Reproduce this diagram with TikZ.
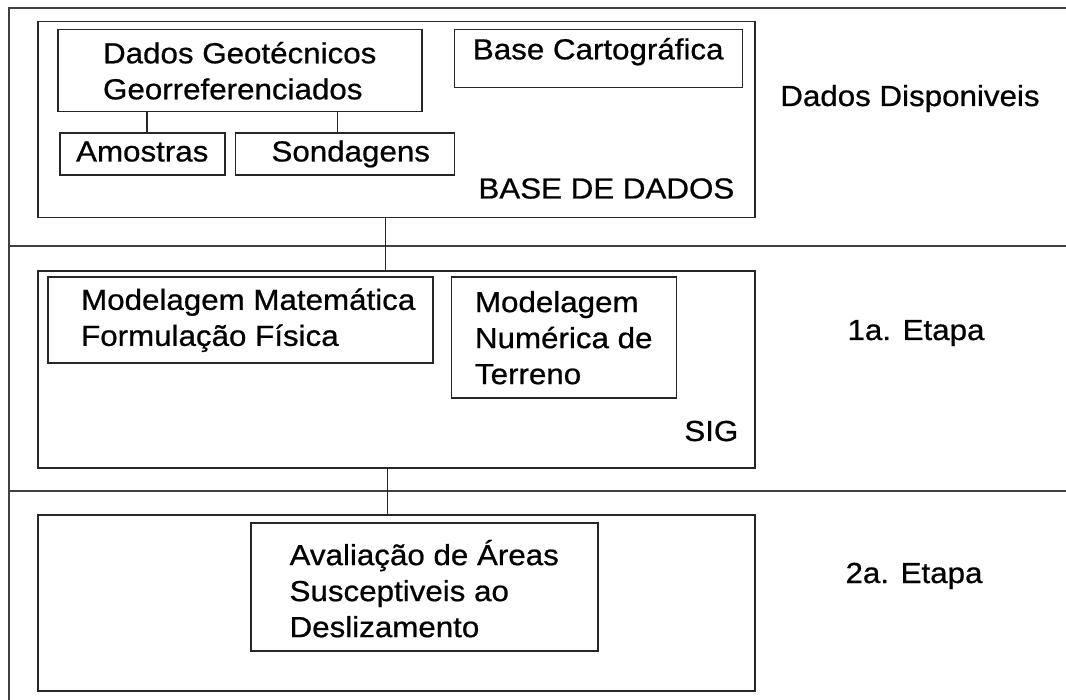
\documentclass[tikz,border=0pt]{standalone}
\usepackage{fontspec}
\setmainfont[FakeStretch=1.08, FakeBold=0.7]{Liberation Sans}
\usetikzlibrary{positioning}

\begin{document}
\begin{tikzpicture}[
    x=1pt, y=-1pt,
    every node/.style={font=\fontsize{29}{36}\selectfont},
    box/.style={draw=black!85, line width=1.5pt, rectangle, inner sep=0pt, align=left},
    boxtitle/.style={inner sep=0pt, anchor=base east},
    stage/.style={inner sep=0pt, anchor=base},
    gridline/.style={draw=black!75, line width=1.8pt},
    link/.style={draw=black!85, line width=1.5pt}
]
\useasboundingbox (0,0) rectangle (1066,700);

% Frame
\coordinate (tl) at (9,8);
\coordinate (tr) at (1066,8);
\coordinate (bl) at (9,700);
\coordinate (row1) at (9,246);
\coordinate (row2) at (9,491);
\draw[gridline] (tr) -- (tl) -- (bl);
\draw[gridline] (row1) -- (row1 -| tr);
\draw[gridline] (row2) -- (row2 -| tr);

% Nodes
\node[box, minimum width=717pt, minimum height=196pt, anchor=north west] (base) at (37,21) {};
\node[box, minimum width=364pt, minimum height=82pt, below right=8pt and 20pt of base.north west] (geo) {Dados Geotécnicos\\Georreferenciados};
\node[box, minimum width=288pt, minimum height=58pt, right=31pt of geo.north east, anchor=north west] (cart) {Base Cartográfica\strut\rule[-24pt]{0pt}{1pt}};
\node[box, minimum width=165pt, minimum height=42pt, below right=20pt and 2pt of geo.south west] (amo) {Amostras\strut};
\node[box, minimum width=219pt, minimum height=42pt, right=9pt of amo] (son) {\hspace*{12pt}Sondagens\strut};
\node[boxtitle] (basetitle) at ([xshift=-21pt, yshift=20pt]base.south east) {BASE DE DADOS};

\node[box, minimum width=717pt, minimum height=197pt, below=52pt of base] (sig) {};
\node[box, minimum width=385pt, minimum height=86pt, below right=6pt and 10pt of sig.north west] (mm) {\hspace*{16pt}Modelagem Matemática\\\hspace*{16pt}Formulação Física};
\node[box, minimum width=225pt, minimum height=121pt, right=17pt of mm.north east, anchor=north west] (mnt) {Modelagem\\Numérica de\\Terreno};
\node[boxtitle] (sigtitle) at ([xshift=-17pt, yshift=28pt]sig.south east) {SIG};

\node[box, minimum width=717pt, minimum height=176pt, below=45pt of sig] (eval) {};
\node[box, minimum width=347pt, minimum height=128pt, below right=8pt and 213pt of eval.north west] (aval) {\rule{0pt}{29pt}Avaliação de Áreas\\Susceptiveis ao\\Deslizamento};

\node[stage] (avail) at (910,106) {Dados Disponiveis};
\node[stage] (stage1) at (916,340) {1a. Etapa};
\node[stage] (stage2) at (914,583) {2a. Etapa};

% Connections
\coordinate (amotop) at ([xshift=4.5pt]amo.north);
\coordinate (sontop) at ([xshift=-7.5pt]son.north);
\coordinate (sigtop) at ([xshift=-11pt]sig.north);
\coordinate (evaltop) at ([xshift=-9pt]eval.north);
\draw[link] (amotop) -- (amotop |- geo.south);
\draw[link] (sontop) -- (sontop |- geo.south);
\draw[link] (sigtop) -- (sigtop |- base.south);
\draw[link] (evaltop) -- (evaltop |- sig.south);

\end{tikzpicture}
\end{document}
